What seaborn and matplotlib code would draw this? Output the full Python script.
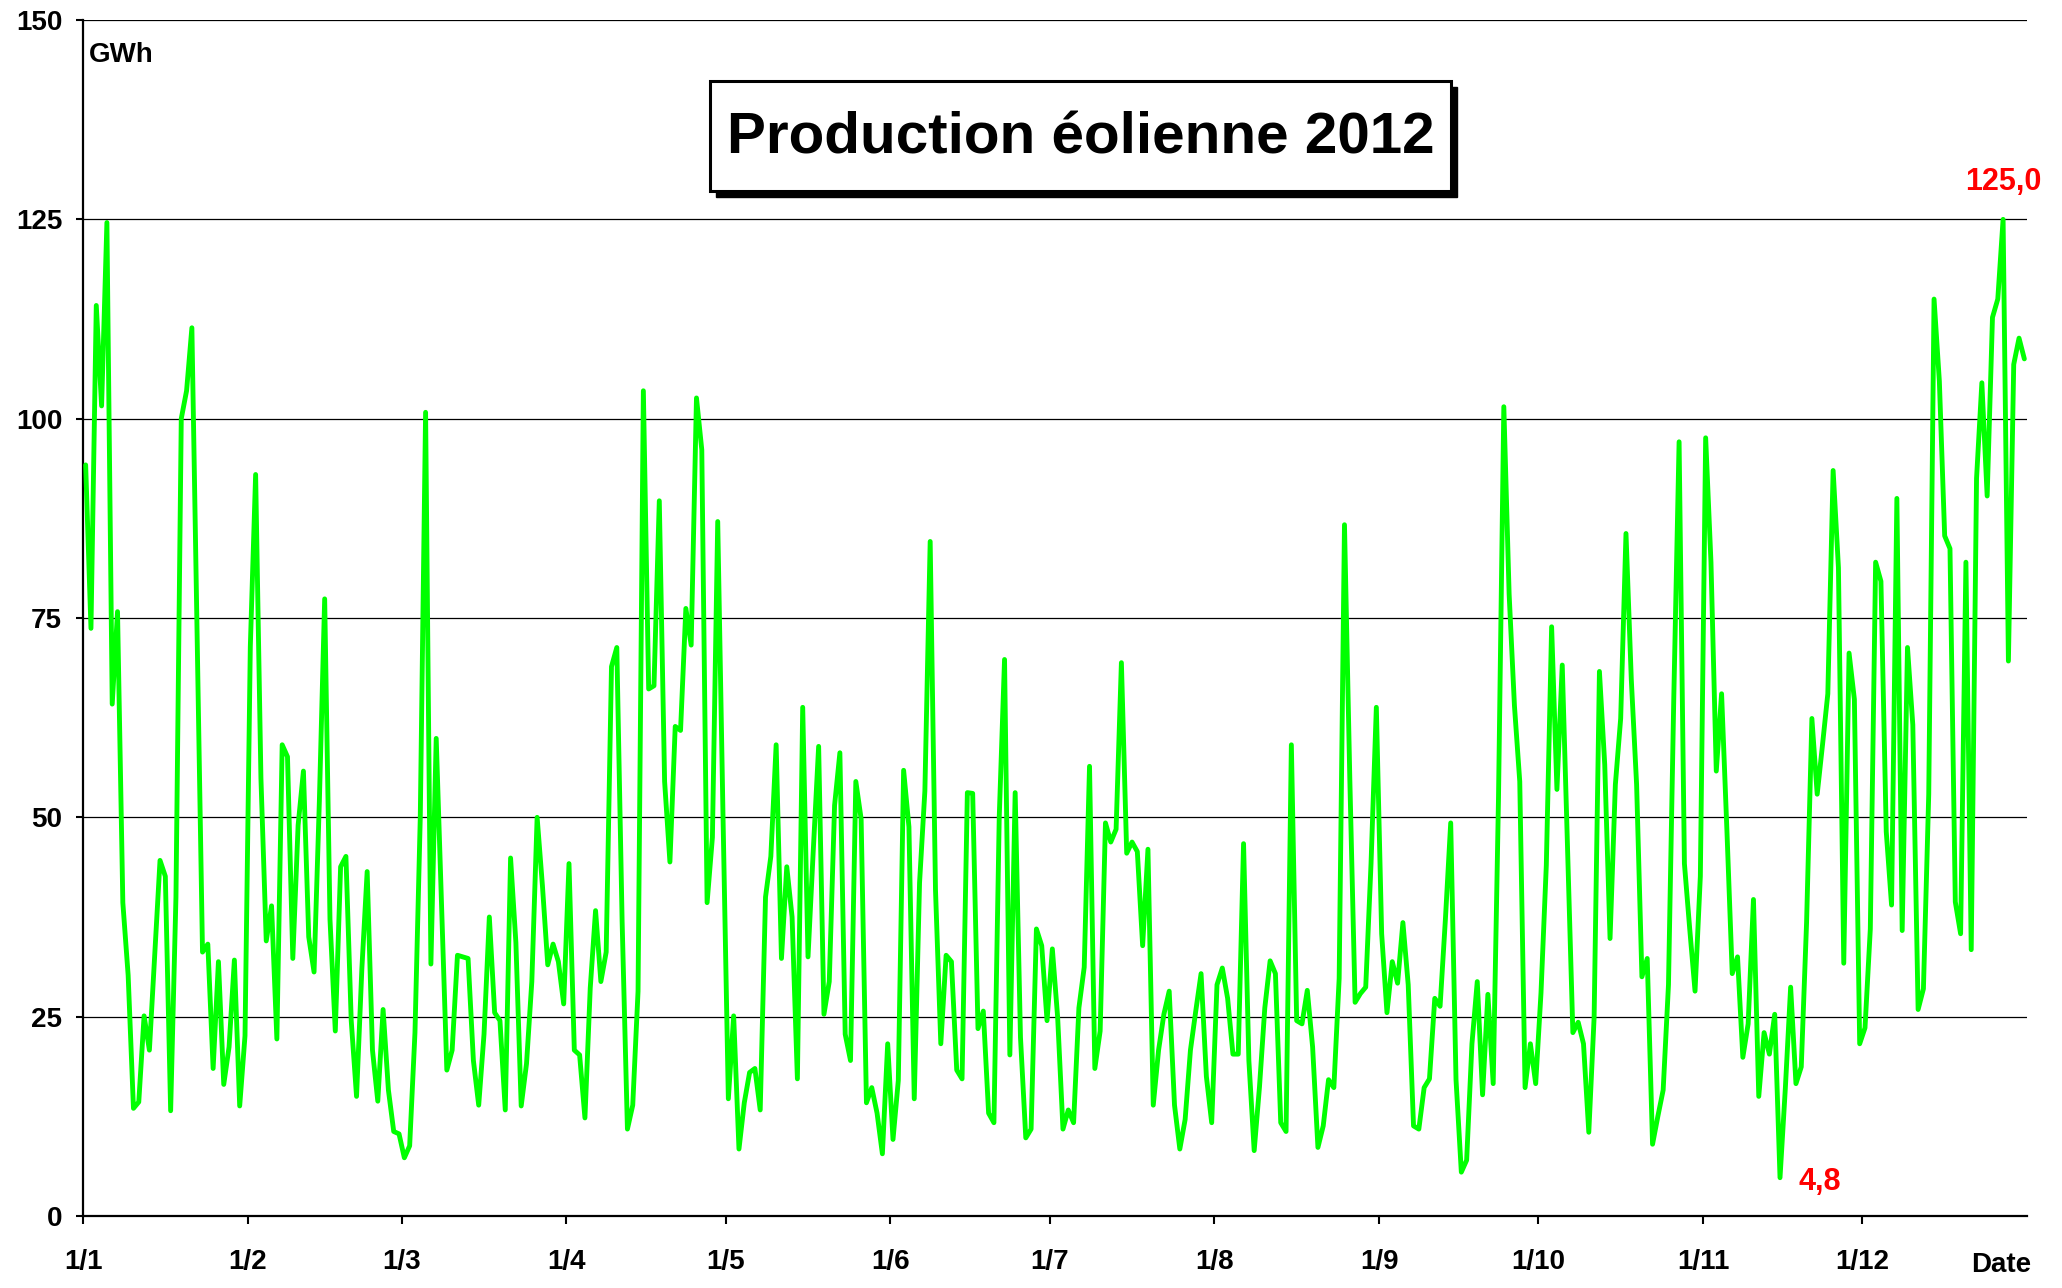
import numpy as np
import pandas as pd
import matplotlib
matplotlib.use("Agg")
import matplotlib.pyplot as plt
import seaborn as sns
from matplotlib.patches import Rectangle

# Daily wind production 2012 (GWh), one list per month
jan = [94.2, 73.7, 114.2, 101.6, 124.6, 64.2, 75.8, 39.3, 30.2, 13.5, 14.3, 25.1, 20.8, 32.7, 44.6, 42.6,
       13.2, 40.0, 100.0, 103.5, 111.4, 72.0, 33.1, 34.1, 18.5, 31.9, 16.5, 21.2, 32.1, 13.8, 22.6]
feb = [71.4, 93.0, 54.9, 34.5, 38.9, 22.2, 59.1, 57.6, 32.3, 49.0, 55.8, 35.0, 30.6, 52.0, 77.4, 37.2,
       23.2, 43.8, 45.1, 24.5, 15.0, 31.0, 43.2, 20.8, 14.4, 25.9, 15.8, 10.6, 10.3]
mar = [7.3, 8.8, 23.0, 50.0, 100.8, 31.6, 59.9, 39.0, 18.3, 20.8, 32.7, 32.5, 32.3, 19.5, 13.9, 22.8,
       37.5, 25.5, 24.5, 13.3, 44.9, 34.3, 13.8, 19.1, 29.4, 50.0, 41.4, 31.5, 34.1, 31.9, 26.6]
apr = [44.2, 20.8, 20.2, 12.3, 28.6, 38.3, 29.4, 33.1, 68.9, 71.3, 37.0, 10.9, 13.9, 28.2, 103.5, 66.1,
       66.5, 89.7, 54.5, 44.4, 61.4, 60.9, 76.2, 71.6, 102.6, 96.1, 39.3, 47.5, 87.1, 50.0]
may = [14.7, 25.1, 8.4, 14.2, 18.0, 18.5, 13.3, 40.0, 45.1, 59.1, 32.3, 43.8, 37.5, 17.2, 63.8, 32.5,
       46.0, 58.9, 25.3, 29.4, 51.5, 58.1, 22.8, 19.5, 54.5, 49.8, 14.2, 16.1, 12.9, 7.8, 21.6]
jun = [9.6, 17.0, 55.9, 48.8, 14.7, 41.8, 53.3, 84.6, 40.9, 21.6, 32.7, 31.9, 18.3, 17.2, 53.1, 53.0,
       23.5, 25.7, 12.9, 11.7, 50.0, 69.8, 20.2, 53.1, 22.4, 9.8, 10.9, 36.0, 33.9, 24.5]
jul = [33.5, 24.9, 10.9, 13.3, 11.7, 26.1, 31.2, 56.4, 18.5, 23.2, 49.3, 46.9, 48.5, 69.4, 45.5, 46.9,
       45.7, 33.9, 46.0, 13.9, 20.8, 25.3, 28.2, 13.9, 8.4, 12.1, 20.8, 25.7, 30.4, 17.5, 11.7]
aug = [29.0, 31.1, 27.3, 20.3, 20.3, 46.7, 19.5, 8.2, 16.2, 26.1, 32.0, 30.4, 11.7, 10.6, 59.1, 24.5,
       24.1, 28.3, 21.2, 8.6, 11.3, 17.1, 16.1, 29.8, 86.7, 55.0, 26.8, 27.9, 28.7, 44.2, 63.8]
sep = [35.4, 25.5, 31.9, 29.2, 36.8, 29.0, 11.3, 10.9, 16.1, 17.2, 27.3, 26.3, 37.2, 49.3, 17.1, 5.5,
       7.0, 21.6, 29.4, 15.2, 27.8, 16.6, 52.5, 101.5, 78.0, 64.0, 54.5, 16.1, 21.6, 16.6]
oct_ = [28.0, 44.0, 73.9, 53.5, 69.1, 46.0, 23.0, 24.3, 21.6, 10.5, 24.9, 68.3, 56.6, 34.8, 54.1, 62.4,
        85.6, 67.3, 54.1, 30.0, 32.3, 9.0, 12.5, 15.8, 29.0, 65.0, 97.1, 44.2, 36.0, 28.2, 42.6]
nov = [97.6, 82.0, 55.8, 65.5, 48.4, 30.4, 32.5, 19.9, 24.1, 39.7, 15.0, 23.0, 20.3, 25.3, 4.8, 16.0,
       28.7, 16.6, 18.7, 36.8, 62.4, 52.9, 59.1, 65.5, 93.5, 81.3, 31.7, 70.6, 64.8, 21.6]
dec = [23.6, 36.0, 82.0, 79.6, 48.2, 39.0, 90.0, 35.8, 71.3, 61.6, 25.9, 28.5, 52.9, 115.0, 104.7, 85.3,
       83.7, 39.4, 35.4, 82.0, 33.4, 92.5, 104.5, 90.3, 112.7, 115.0, 125.0, 69.6, 106.8, 110.1, 107.5]

month_labels = ["1/1", "1/2", "1/3", "1/4", "1/5", "1/6", "1/7", "1/8", "1/9", "1/10", "1/11", "1/12"]
y_ticks = [0, 25, 50, 75, 100, 125, 150]

months = [jan, feb, mar, apr, may, jun, jul, aug, sep, oct_, nov, dec]
month_lengths = [len(m) for m in months]
values = [v for m in months for v in m]
n_days = len(values)
day = np.arange(n_days) + 0.5
df = pd.DataFrame({"day": day, "GWh": values})

sns.set_theme(style="white")
plt.rcParams['font.family'] = ['Liberation Sans', 'DejaVu Sans']

W, H = 2062, 1288
fig = plt.figure(figsize=(W / 100, H / 100), dpi=100)
L, R, T, B = 83, 2027, 20, 1216
ax = fig.add_axes([L / W, 1 - B / H, (R - L) / W, (B - T) / H])

sns.lineplot(data=df, x="day", y="GWh", ax=ax, color="#00FF00", linewidth=3.5,
             errorbar=None, zorder=3)
for ln in ax.lines:
    ln.set_solid_joinstyle("round")
    ln.set_solid_capstyle("round")

ax.set_xlim(0, n_days)
ax.set_ylim(0, 150)
ticks = np.cumsum([0] + month_lengths[:-1])
ax.set_xticks(ticks)
ax.set_xticklabels(month_labels, fontweight="bold", fontsize=20, color="black")
ax.set_yticks(y_ticks)
ax.set_yticklabels([str(t) for t in y_ticks], fontweight="bold", fontsize=20, color="black")
ax.set_xlabel("")
ax.set_ylabel("")

ax.yaxis.grid(True, color="black", linewidth=0.9)
ax.xaxis.grid(False)
for s in ["top", "right"]:
    ax.spines[s].set_visible(False)
for s in ["left", "bottom"]:
    ax.spines[s].set_visible(True)
    ax.spines[s].set_color("black")
    ax.spines[s].set_linewidth(1.6)
ax.tick_params(axis="x", direction="out", length=6, width=1.5, color="black", pad=18, bottom=True)
ax.tick_params(axis="y", direction="out", length=5, width=1.5, color="black", pad=10, left=True)

# Unit and axis name
fig.text(89 / W, 1 - 55 / H, "GWh", ha="left", va="center", fontsize=20, fontweight="bold", color="black")
fig.text(2001 / W, 1 - 1265 / H, "Date", ha="center", va="center", fontsize=20, fontweight="bold", color="black")

# Max / min annotations
vals = np.array(values)
imax, imin = int(vals.argmax()), int(vals.argmin())
fmt = lambda v: f"{v:.1f}".replace(".", ",")
ax.annotate(fmt(vals[imax]), xy=(day[imax], vals[imax]), xytext=(0, 27), textcoords="offset points",
            ha="center", va="center", color="red", fontsize=22, fontweight="bold", annotation_clip=False)
ax.annotate(fmt(vals[imin]), xy=(day[imin], vals[imin]), xytext=(29, -3), textcoords="offset points",
            ha="center", va="center", color="red", fontsize=22, fontweight="bold", annotation_clip=False)

# Title box with shadow
bx0, by0, bx1, by1 = 710, 81, 1451, 191
sh = 6
fig.patches.append(Rectangle(((bx0 + sh) / W, 1 - (by1 + sh) / H), (bx1 - bx0) / W, (by1 - by0) / H,
                             transform=fig.transFigure, facecolor="black", edgecolor="black", zorder=5))
fig.patches.append(Rectangle((bx0 / W, 1 - by1 / H), (bx1 - bx0) / W, (by1 - by0) / H,
                             transform=fig.transFigure, facecolor="white", edgecolor="black",
                             linewidth=2.2, zorder=6))
fig.text((bx0 + bx1) / 2 / W, 1 - (by0 + by1 + 4) / 2 / H, "Production éolienne 2012", ha="center", va="center",
         fontsize=42, fontweight="bold", color="black", zorder=7)

fig.savefig("out.png", dpi=100, facecolor="white")
